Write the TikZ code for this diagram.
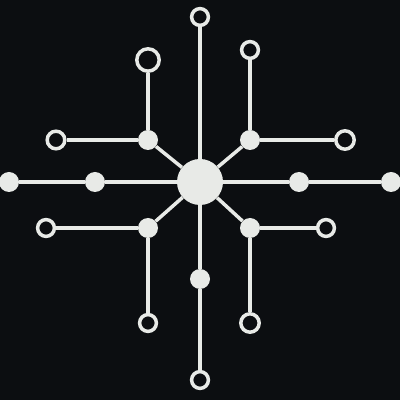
\documentclass[tikz,border=0pt]{standalone}
\usepackage{tikz}
\usetikzlibrary{positioning, calc, backgrounds}
\usepackage{xcolor}
\definecolor{ink}{HTML}{0C0E11}
\definecolor{chalk}{HTML}{E8EAE7}

\tikzset{
    wire/.style={chalk, line width=2.5pt},
    hub/.style={circle, fill=chalk, inner sep=0pt, minimum size=1.15cm},
    joint/.style={circle, fill=chalk, inner sep=0pt, minimum size=0.5cm},
    pad/.style={circle, draw=chalk, fill=ink, line width=2.5pt, inner sep=0pt, minimum size=0.42cm}
}

\begin{document}
\begin{tikzpicture}
    \useasboundingbox (-5, 4.55) rectangle (5, -5.45);

    % Hub
    \node[hub] (hub) at (0, 0) {};

    % Main axis
    \node[pad] (north) at (0, 4.125) {};
    \node[joint] (south1) at (0, -2.425) {};
    \node[pad] (south2) at (0, -4.95) {};
    \node[joint] (west1) at (-2.625, 0) {};
    \node[joint] (west2) at (-4.775, 0) {};
    \node[joint] (east1) at (2.475, 0) {};
    \node[joint] (east2) at (4.775, 0) {};

    % Diagonal joints
    \node[joint] (nw) at (-1.3, 1.05) {};
    \node[joint] (ne) at (1.25, 1.05) {};
    \node[joint] (sw) at (-1.3, -1.15) {};
    \node[joint] (se) at (1.25, -1.15) {};

    % Branch ends
    \node[pad, minimum size=0.56cm] (nwup) at (-1.3, 3.05) {};
    \node[pad, minimum size=0.44cm] (nwleft) at (-3.6, 1.05) {};
    \node[pad] (neup) at (1.25, 3.3) {};
    \node[pad, minimum size=0.46cm] (neright) at (3.625, 1.05) {};
    \node[pad] (swleft) at (-3.85, -1.15) {};
    \node[pad] (swdown) at (-1.3, -3.525) {};
    \node[pad] (seright) at (3.15, -1.15) {};
    \node[pad, minimum size=0.46cm] (sedown) at (1.25, -3.525) {};

    % Background and connectors
    \begin{scope}[on background layer]
        \fill[ink] (-5, 4.55) rectangle (5, -5.45);
        \draw[wire] (north) -- (hub) -- (south1) -- (south2);
        \draw[wire] (west2) -- (west1) -- (hub) -- (east1) -- (east2);
        \draw[wire] (hub) -- (nw);
        \draw[wire] (hub) -- (ne);
        \draw[wire] (hub) -- (sw);
        \draw[wire] (hub) -- (se);
        \draw[wire] (nwup) -- (nw) -- (nwleft);
        \draw[wire] (neup) -- (ne) -- (neright);
        \draw[wire] (swleft) -- (sw) -- (swdown);
        \draw[wire] (seright) -- (se) -- (sedown);
    \end{scope}
\end{tikzpicture}
\end{document}
